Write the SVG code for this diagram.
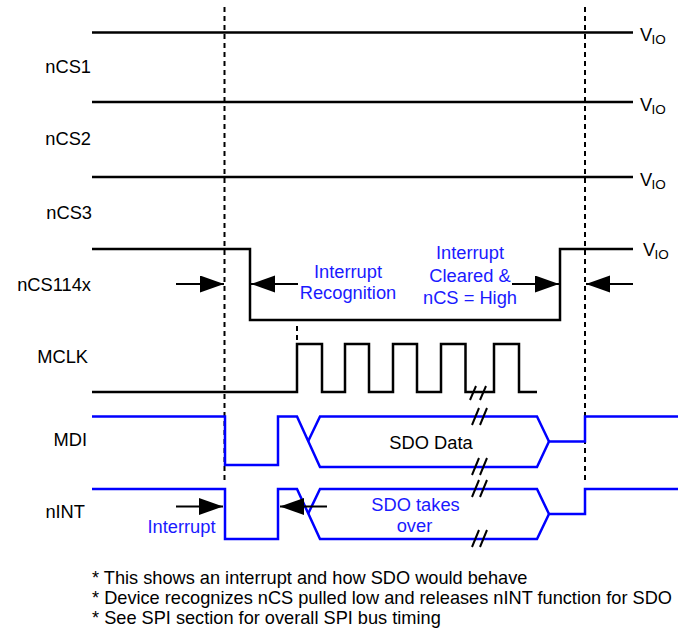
<svg xmlns="http://www.w3.org/2000/svg" width="678" height="634" viewBox="0 0 678 634">
<style>
.sig{fill:none;stroke:#000;stroke-width:2.5}
.bus{fill:none;stroke:#0000ff;stroke-width:2.5}
.dash{fill:none;stroke:#000;stroke-width:2;stroke-dasharray:5 4}
.brk{fill:none;stroke:#000;stroke-width:2}
.arr{fill:none;stroke:#000;stroke-width:2;marker-end:url(#ah)}
text{font-family:"Liberation Sans",Arial,Helvetica,sans-serif;font-size:18.3px;fill:#000}
.blue{fill:#1a1aff}
.mid{text-anchor:middle}
.end{text-anchor:end}
.sub{font-size:13.5px}
.note{font-size:18.2px}
</style>
<defs>
<marker id="ah" markerUnits="userSpaceOnUse" markerWidth="25" markerHeight="18" refX="24" refY="8.5" orient="auto">
<path d="M0,0 L24,8.5 L0,17 z" fill="#000"/>
</marker>
</defs>
<rect width="678" height="634" fill="#fff"/>

<g id="guides">
<line class="dash" x1="224.5" y1="7" x2="224.5" y2="484"/>
<line class="dash" x1="585" y1="7" x2="585" y2="484"/>
<line class="dash" x1="297" y1="326" x2="297" y2="341"/>
</g>

<g id="nCS1">
<path class="sig" d="M92,32.5 H633"/>
<text x="640" y="41">V</text><text class="sub" x="651.5" y="44">IO</text>
<text class="end" x="91" y="73">nCS1</text>
</g>
<g id="nCS2">
<path class="sig" d="M92,102 H633"/>
<text x="640" y="111">V</text><text class="sub" x="651.5" y="114">IO</text>
<text class="end" x="91" y="145">nCS2</text>
</g>
<g id="nCS3">
<path class="sig" d="M92,177 H633"/>
<text x="640" y="186">V</text><text class="sub" x="651.5" y="189">IO</text>
<text class="end" x="92" y="219">nCS3</text>
</g>
<g id="nCS114x">
<path class="sig" d="M92,249 H250 V320 H560 V249 H633"/>
<text x="643" y="256">V</text><text class="sub" x="654.5" y="259">IO</text>
<text class="end" x="91" y="291">nCS114x</text>
</g>
<g id="MCLK">
<path class="sig" d="M92,392 H297 V344 H322 V392 H345 V344 H369 V392 H393 V344 H417 V392 H441 V344 H465.5 V392 H494 V344 H519 V392 H537"/>
<path class="brk" d="M470,400 L476,386 M480,400 L486,386"/>
<text class="end" x="88" y="363">MCLK</text>
</g>
<g id="MDI">
<path class="bus" d="M92,416.5 H225 V465 H278 V416.5 H297 L320,467 H537 L549,441.5 H585 V416.5 H678"/>
<path class="bus" d="M308,441.5 L320,416.5 H537 L549,441.5"/>
<path class="brk" d="M472,425 L479,408 M480,425 L487,408 M472,475 L479,458 M480,475 L487,458"/>
<text class="mid" x="431" y="449">SDO Data</text>
<text class="end" x="87" y="446">MDI</text>
</g>
<g id="nINT">
<path class="bus" d="M92,489 H225 V539 H278 V489 H297 L320,539 H537 L549,514 H585 V489 H678"/>
<path class="bus" d="M308,514 L320,489 H537 L549,514"/>
<path class="brk" d="M472,497 L479,480 M480,497 L487,480 M472,547 L479,530 M480,547 L487,530"/>
<text class="mid blue" x="415.5" y="511">SDO takes</text>
<text class="mid blue" x="414.5" y="532">over</text>
<text class="end" x="85" y="518">nINT</text>
</g>

<g id="connectors">
<line class="arr" x1="176" y1="284" x2="224" y2="284"/>
<line class="arr" x1="298" y1="284" x2="251" y2="284"/>
<line class="arr" x1="512" y1="284" x2="559" y2="284"/>
<line class="arr" x1="633" y1="284" x2="586" y2="284"/>
<line class="arr" x1="176" y1="506.5" x2="223" y2="506.5"/>
<line class="arr" x1="327" y1="506.5" x2="280" y2="506.5"/>
</g>

<g id="annotations">
<text class="mid blue" x="348" y="278">Interrupt</text>
<text class="mid blue" x="348" y="299">Recognition</text>
<text class="mid blue" x="470" y="259">Interrupt</text>
<text class="mid blue" x="470" y="282">Cleared &amp;</text>
<text class="mid blue" x="470" y="304">nCS = High</text>
<text class="mid blue" x="181.5" y="533">Interrupt</text>
</g>

<g id="notes">
<text class="note" x="92" y="584">* This shows an interrupt and how SDO would behave</text>
<text class="note" x="92" y="604">* Device recognizes nCS pulled low and releases nINT function for SDO</text>
<text class="note" x="92" y="624">* See SPI section for overall SPI bus timing</text>
</g>
</svg>
